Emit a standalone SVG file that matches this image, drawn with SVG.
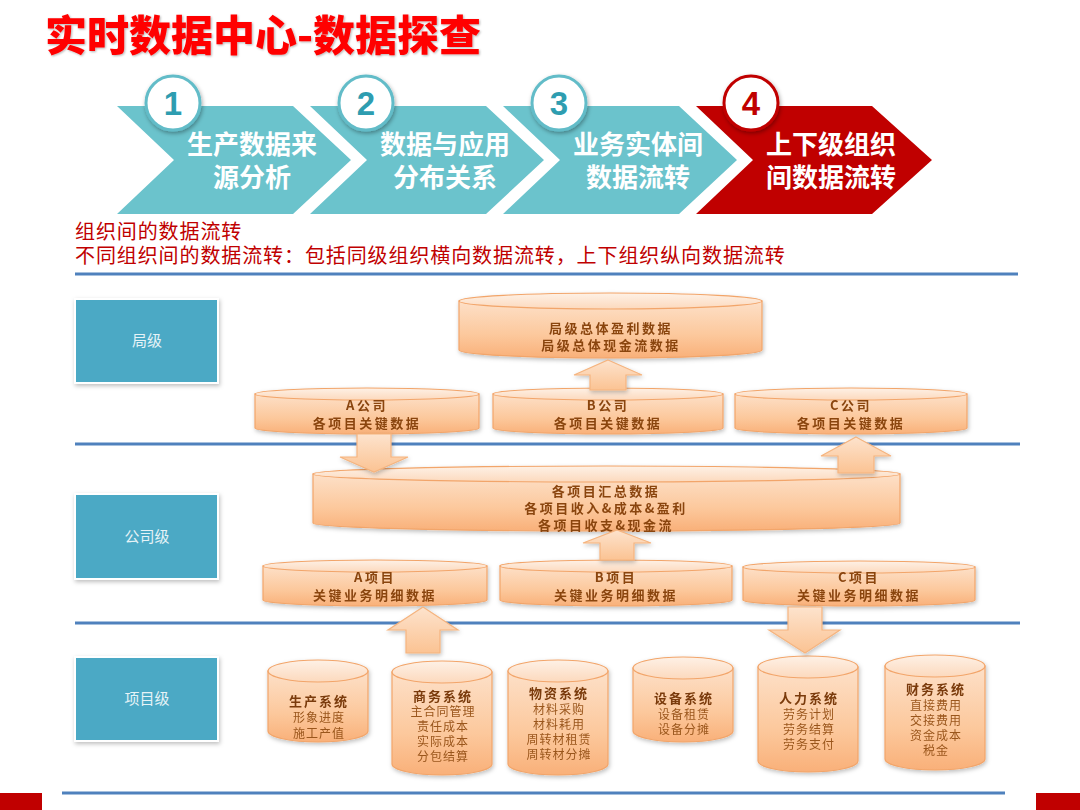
<svg xmlns="http://www.w3.org/2000/svg" width="1080" height="810" viewBox="0 0 1080 810">
<defs>
<linearGradient id="gBody" x1="0" y1="0" x2="0" y2="1">
<stop offset="0" stop-color="#fde0c8"/>
<stop offset="0.6" stop-color="#fcc89c"/>
<stop offset="1" stop-color="#f9b079"/>
</linearGradient>
<linearGradient id="gTop" x1="0" y1="0" x2="0" y2="1">
<stop offset="0" stop-color="#fef1e6"/>
<stop offset="1" stop-color="#fcd9bd"/>
</linearGradient>
<linearGradient id="gArrow" x1="0" y1="0" x2="0" y2="1">
<stop offset="0" stop-color="#fde3cd"/>
<stop offset="1" stop-color="#fbc393"/>
</linearGradient>
<filter id="sh" x="-10%" y="-20%" width="120%" height="150%">
<feDropShadow dx="1" dy="2" stdDeviation="2" flood-color="#000" flood-opacity="0.25"/>
</filter>
<filter id="shc" x="-30%" y="-30%" width="160%" height="160%">
<feDropShadow dx="1" dy="2" stdDeviation="2" flood-color="#000" flood-opacity="0.35"/>
</filter>
<filter id="tsh" x="-5%" y="-20%" width="110%" height="140%">
<feDropShadow dx="1" dy="1" stdDeviation="0.8" flood-color="#000" flood-opacity="0.3"/>
</filter>
</defs>
<style>
.title{font-family:"Noto Sans CJK SC","Liberation Sans",sans-serif;font-weight:900;font-size:42px;fill:#ff0000}
.chev{fill:#6bc3cc}
.chev4{fill:#c00000}
.ctext{font-family:"Noto Sans CJK SC",sans-serif;font-weight:700;font-size:26px;fill:#ffffff;text-anchor:middle}
.circ{fill:#ffffff;stroke:#62bcc8;stroke-width:3}
.circ4{fill:#ffffff;stroke:#c00000;stroke-width:3}
.num{font-family:"Liberation Sans",Arial,sans-serif;font-weight:700;font-size:33px;fill:#2e9db0;text-anchor:middle}
.num4{fill:#c00000}
.sub{font-family:"Noto Sans CJK SC",sans-serif;font-size:20px;letter-spacing:0.9px;fill:#c00000}
.sep{stroke:#4f81bd;stroke-width:3;fill:none}
.lvl{fill:#4ba9c5;stroke:#ffffff;stroke-width:2}
.ltext{font-family:"Noto Sans CJK SC",sans-serif;font-size:15px;fill:#e6f3f7;text-anchor:middle}
.body{fill:url(#gBody);stroke:#f2a56a;stroke-width:1.2}
.top{fill:url(#gTop);stroke:#f2a56a;stroke-width:1.2}
.t1{font-family:"Noto Sans CJK SC",sans-serif;font-weight:700;font-size:13px;fill:#8a4510;text-anchor:middle;letter-spacing:2.5px}
.t2{font-family:"Noto Sans CJK SC",sans-serif;font-weight:700;font-size:13px;fill:#7a3a0a;text-anchor:middle;letter-spacing:2px}
.t3{font-family:"Noto Sans CJK SC",sans-serif;font-size:12px;fill:#9a561c;text-anchor:middle;letter-spacing:1px}
.arr{fill:url(#gArrow);stroke:#f5b47f;stroke-width:1.2}
</style>
<rect width="1080" height="810" fill="#ffffff"/>

<g id="title">
<text class="title" x="45" y="51" filter="url(#tsh)">实时数据中心-数据探查</text>
</g>

<g id="step1">
<polygon class="chev" points="117,106 293,106 351,160 293,214 117,214 174,160"/>
<circle class="circ" cx="173" cy="103" r="27" filter="url(#shc)"/>
<text class="num" x="173" y="115">1</text>
<text class="ctext" x="252" y="154">生产数据来</text>
<text class="ctext" x="252" y="187">源分析</text>
</g>
<g id="step2">
<polygon class="chev" points="310,106 486,106 544,160 486,214 310,214 367,160"/>
<circle class="circ" cx="366" cy="103" r="27" filter="url(#shc)"/>
<text class="num" x="366" y="115">2</text>
<text class="ctext" x="445" y="154">数据与应用</text>
<text class="ctext" x="445" y="187">分布关系</text>
</g>
<g id="step3">
<polygon class="chev" points="503,106 679,106 737,160 679,214 503,214 560,160"/>
<circle class="circ" cx="559" cy="103" r="27" filter="url(#shc)"/>
<text class="num" x="559" y="115">3</text>
<text class="ctext" x="638" y="154">业务实体间</text>
<text class="ctext" x="638" y="187">数据流转</text>
</g>
<g id="step4">
<polygon class="chev4" points="696,106 872,106 932,160 872,214 696,214 753,160"/>
<circle class="circ4" cx="751" cy="103" r="27" filter="url(#shc)"/>
<text class="num num4" x="751" y="115">4</text>
<text class="ctext" x="831" y="154">上下级组织</text>
<text class="ctext" x="831" y="187">间数据流转</text>
</g>

<g id="subtitle">
<text class="sub" x="75" y="239">组织间的数据流转</text>
<text class="sub" x="75" y="263">不同组织间的数据流转：包括同级组织横向数据流转，上下组织纵向数据流转</text>
</g>

<g id="separators">
<line class="sep" x1="75" y1="274" x2="1018" y2="274"/>
<line class="sep" x1="75" y1="444" x2="1020" y2="444"/>
<line class="sep" x1="75" y1="623" x2="1020" y2="623"/>
<line class="sep" x1="62" y1="793" x2="1005" y2="793"/>
<rect x="0" y="793" width="42" height="17" fill="#c00000"/>
<rect x="1036" y="793" width="44" height="17" fill="#c00000"/>
</g>

<g id="level-ju">
<rect class="lvl" x="75" y="299" width="143" height="84" filter="url(#sh)"/>
<text class="ltext" x="147" y="346">局级</text>
</g>
<g id="level-company">
<rect class="lvl" x="75" y="494" width="143" height="85" filter="url(#sh)"/>
<text class="ltext" x="147" y="542">公司级</text>
</g>
<g id="level-project">
<rect class="lvl" x="75" y="657" width="143" height="84" filter="url(#sh)"/>
<text class="ltext" x="147" y="704">项目级</text>
</g>

<g id="db-ju" filter="url(#sh)">
<path class="body" d="M459,301 V350 A151.5,8 0 0 0 762,350 V301 Z"/>
<ellipse class="top" cx="610.5" cy="301" rx="151.5" ry="8"/>
<text class="t1" x="611" y="333">局级总体盈利数据</text>
<text class="t1" x="611" y="350">局级总体现金流数据</text>
</g>

<g id="db-companyA" filter="url(#sh)">
<path class="body" d="M255,394 V428 A112,6 0 0 0 479,428 V394 Z"/>
<ellipse class="top" cx="367" cy="394" rx="112" ry="6"/>
<text class="t1" x="367" y="410">A公司</text>
<text class="t1" x="367" y="428">各项目关键数据</text>
</g>
<g id="db-companyB" filter="url(#sh)">
<path class="body" d="M493,394 V428 A115,6 0 0 0 723,428 V394 Z"/>
<ellipse class="top" cx="608" cy="394" rx="115" ry="6"/>
<text class="t1" x="608" y="410">B公司</text>
<text class="t1" x="608" y="428">各项目关键数据</text>
</g>
<g id="db-companyC" filter="url(#sh)">
<path class="body" d="M735,394 V428 A116,6 0 0 0 967,428 V394 Z"/>
<ellipse class="top" cx="851" cy="394" rx="116" ry="6"/>
<text class="t1" x="851" y="410">C公司</text>
<text class="t1" x="851" y="428">各项目关键数据</text>
</g>

<g id="db-summary" filter="url(#sh)">
<path class="body" d="M313,474 V523 A293.5,8 0 0 0 900,523 V474 Z"/>
<ellipse class="top" cx="606.5" cy="474" rx="293.5" ry="8"/>
<text class="t1" x="606" y="496">各项目汇总数据</text>
<text class="t1" x="606" y="513">各项目收入&amp;成本&amp;盈利</text>
<text class="t1" x="606" y="530">各项目收支&amp;现金流</text>
</g>

<g id="db-projectA" filter="url(#sh)">
<path class="body" d="M263,566 V600 A112,6 0 0 0 487,600 V566 Z"/>
<ellipse class="top" cx="375" cy="566" rx="112" ry="6"/>
<text class="t1" x="375" y="582">A项目</text>
<text class="t1" x="375" y="600">关键业务明细数据</text>
</g>
<g id="db-projectB" filter="url(#sh)">
<path class="body" d="M500,566 V600 A116,6 0 0 0 732,600 V566 Z"/>
<ellipse class="top" cx="616" cy="566" rx="116" ry="6"/>
<text class="t1" x="616" y="582">B项目</text>
<text class="t1" x="616" y="600">关键业务明细数据</text>
</g>
<g id="db-projectC" filter="url(#sh)">
<path class="body" d="M743,567 V600 A116,6 0 0 0 975,600 V567 Z"/>
<ellipse class="top" cx="859" cy="567" rx="116" ry="6"/>
<text class="t1" x="859" y="582">C项目</text>
<text class="t1" x="859" y="600">关键业务明细数据</text>
</g>

<g id="sys-production" filter="url(#sh)">
<path class="body" d="M268,671 V731 A50,11 0 0 0 368,731 V671 Z"/>
<ellipse class="top" cx="318" cy="671" rx="50" ry="11"/>
<text class="t2" x="319" y="706">生产系统</text>
<text class="t3" x="319" y="722">形象进度</text>
<text class="t3" x="319" y="738">施工产值</text>
</g>
<g id="sys-business" filter="url(#sh)">
<path class="body" d="M392,672 V764 A50,11 0 0 0 492,764 V672 Z"/>
<ellipse class="top" cx="442" cy="672" rx="50" ry="11"/>
<text class="t2" x="443" y="701">商务系统</text>
<text class="t3" x="443" y="716">主合同管理</text>
<text class="t3" x="443" y="731">责任成本</text>
<text class="t3" x="443" y="746">实际成本</text>
<text class="t3" x="443" y="761">分包结算</text>
</g>
<g id="sys-material" filter="url(#sh)">
<path class="body" d="M508,671 V764 A50,11 0 0 0 608,764 V671 Z"/>
<ellipse class="top" cx="558" cy="671" rx="50" ry="11"/>
<text class="t2" x="559" y="698">物资系统</text>
<text class="t3" x="559" y="714">材料采购</text>
<text class="t3" x="559" y="729">材料耗用</text>
<text class="t3" x="559" y="744">周转材租赁</text>
<text class="t3" x="559" y="759">周转材分摊</text>
</g>
<g id="sys-equipment" filter="url(#sh)">
<path class="body" d="M633,668 V731 A50,11 0 0 0 733,731 V668 Z"/>
<ellipse class="top" cx="683" cy="668" rx="50" ry="11"/>
<text class="t2" x="684" y="703">设备系统</text>
<text class="t3" x="684" y="719">设备租赁</text>
<text class="t3" x="684" y="734">设备分摊</text>
</g>
<g id="sys-hr" filter="url(#sh)">
<path class="body" d="M758,667 V761 A50,11 0 0 0 858,761 V667 Z"/>
<ellipse class="top" cx="808" cy="667" rx="50" ry="11"/>
<text class="t2" x="809" y="703">人力系统</text>
<text class="t3" x="809" y="719">劳务计划</text>
<text class="t3" x="809" y="734">劳务结算</text>
<text class="t3" x="809" y="749">劳务支付</text>
</g>
<g id="sys-finance" filter="url(#sh)">
<path class="body" d="M885,666 V759 A50,11 0 0 0 985,759 V666 Z"/>
<ellipse class="top" cx="935" cy="666" rx="50" ry="11"/>
<text class="t2" x="936" y="694">财务系统</text>
<text class="t3" x="936" y="710">直接费用</text>
<text class="t3" x="936" y="725">交接费用</text>
<text class="t3" x="936" y="740">资金成本</text>
<text class="t3" x="936" y="755">税金</text>
</g>

<g id="connectors" filter="url(#sh)">
<path class="arr" d="M608,360 L642,375 L626,375 L626,390 L590,390 L590,375 L574,375 Z"/>
<path class="arr" d="M357,434 L391,434 L391,457 L408,457 L374,472 L340,457 L357,457 Z"/>
<path class="arr" d="M856,437 L891,456 L874,456 L874,473 L838,473 L838,456 L821,456 Z"/>
<path class="arr" d="M617,530 L651,543 L634,543 L634,560 L600,560 L600,543 L583,543 Z"/>
<path class="arr" d="M423,607 L458,630 L440,630 L440,653 L406,653 L406,630 L388,630 Z"/>
<path class="arr" d="M788,607 L822,607 L822,630 L840,630 L805,653 L769,630 L788,630 Z"/>
</g>
</svg>
